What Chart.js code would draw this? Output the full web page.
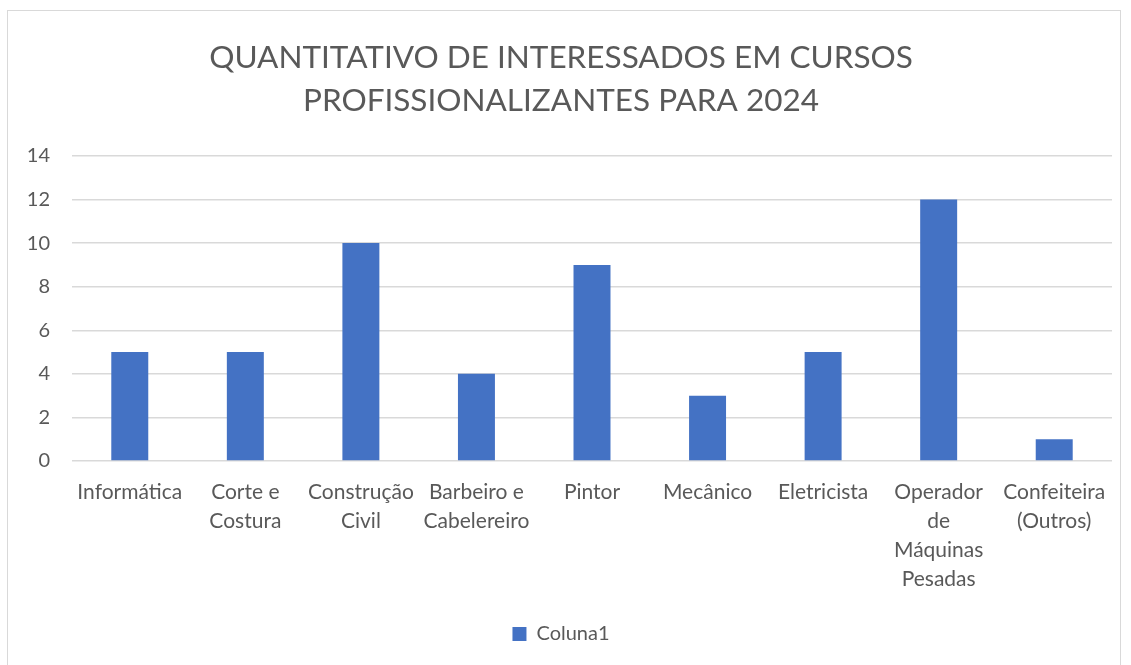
<!DOCTYPE html>
<html>
<head>
<meta charset="utf-8">
<script src="https://cdn.jsdelivr.net/npm/chart.js@4.4.1/dist/chart.umd.min.js"></script>
<style>
  body { margin: 0; background: #fff; }
  #wrap { position: relative; width: 1131px; height: 665px; }
  #frame { position: absolute; left: 7px; top: 10px; width: 1114px; height: 670px; border: 1px solid #d9d9d9; box-sizing: border-box; pointer-events: none; }
</style>
</head>
<body>
<div id="wrap">
  <canvas id="cursosChart" width="1131" height="665"></canvas>
  <div id="frame"></div>
</div>
<script>
  // Dados do gráfico
  const categorias = [
    'Informática', ['Corte e', 'Costura'], ['Construção', 'Civil'], ['Barbeiro e', 'Cabelereiro'],
    'Pintor', 'Mecânico', 'Eletricista', ['Operador', 'de', 'Máquinas', 'Pesadas'], ['Confeiteira', '(Outros)']
  ];
  const coluna1 = [5, 5, 10, 4, 9, 3, 5, 12, 1];
  const tituloLinhas = ['QUANTITATIVO DE INTERESSADOS EM CURSOS', 'PROFISSIONALIZANTES PARA 2024'];

  const corTexto = '#595959';
  const fonte = 'Lato, "Open Sans", sans-serif';

  const ctx = document.getElementById('cursosChart').getContext('2d');
  const cursosChart = new Chart(ctx, {
      type: 'bar',
      data: {
          labels: categorias,
          datasets: [{
              label: 'Coluna1',
              data: coluna1,
              backgroundColor: '#4472C4',
              categoryPercentage: 1,
              barPercentage: 0.32
          }]
      },
      options: {
          responsive: false,
          animation: false,
          layout: { padding: { left: 10, right: 19, top: 0, bottom: 11 } },
          scales: {
              x: {
                  grid: { display: false, drawTicks: false },
                  border: { display: false },
                  ticks: {
                      color: corTexto, font: { family: fonte, size: 21, lineHeight: 1.38 },
                      maxRotation: 0, minRotation: 0, autoSkip: false, padding: 17
                  },
                  afterFit: s => { s.height = 153; }
              },
              y: {
                  min: 0, max: 14,
                  grid: { color: '#d9d9d9', lineWidth: 1.5, drawTicks: false },
                  border: { display: false },
                  ticks: { stepSize: 2, color: corTexto, font: { family: fonte, size: 20 }, padding: 22 },
                  afterFit: s => { s.width = 62; }
              }
          },
          plugins: {
              title: {
                  display: true,
                  text: tituloLinhas,
                  color: corTexto,
                  font: { family: fonte, size: 31.5, weight: 'normal', lineHeight: 1.38 },
                  padding: { top: 36, bottom: 33 }
              },
              legend: {
                  position: 'bottom',
                  labels: { color: corTexto, font: { family: fonte, size: 20 }, boxWidth: 14, boxHeight: 14, padding: 10 }
              },
              tooltip: { enabled: false }
          }
      }
  });
</script>
</body>
</html>
